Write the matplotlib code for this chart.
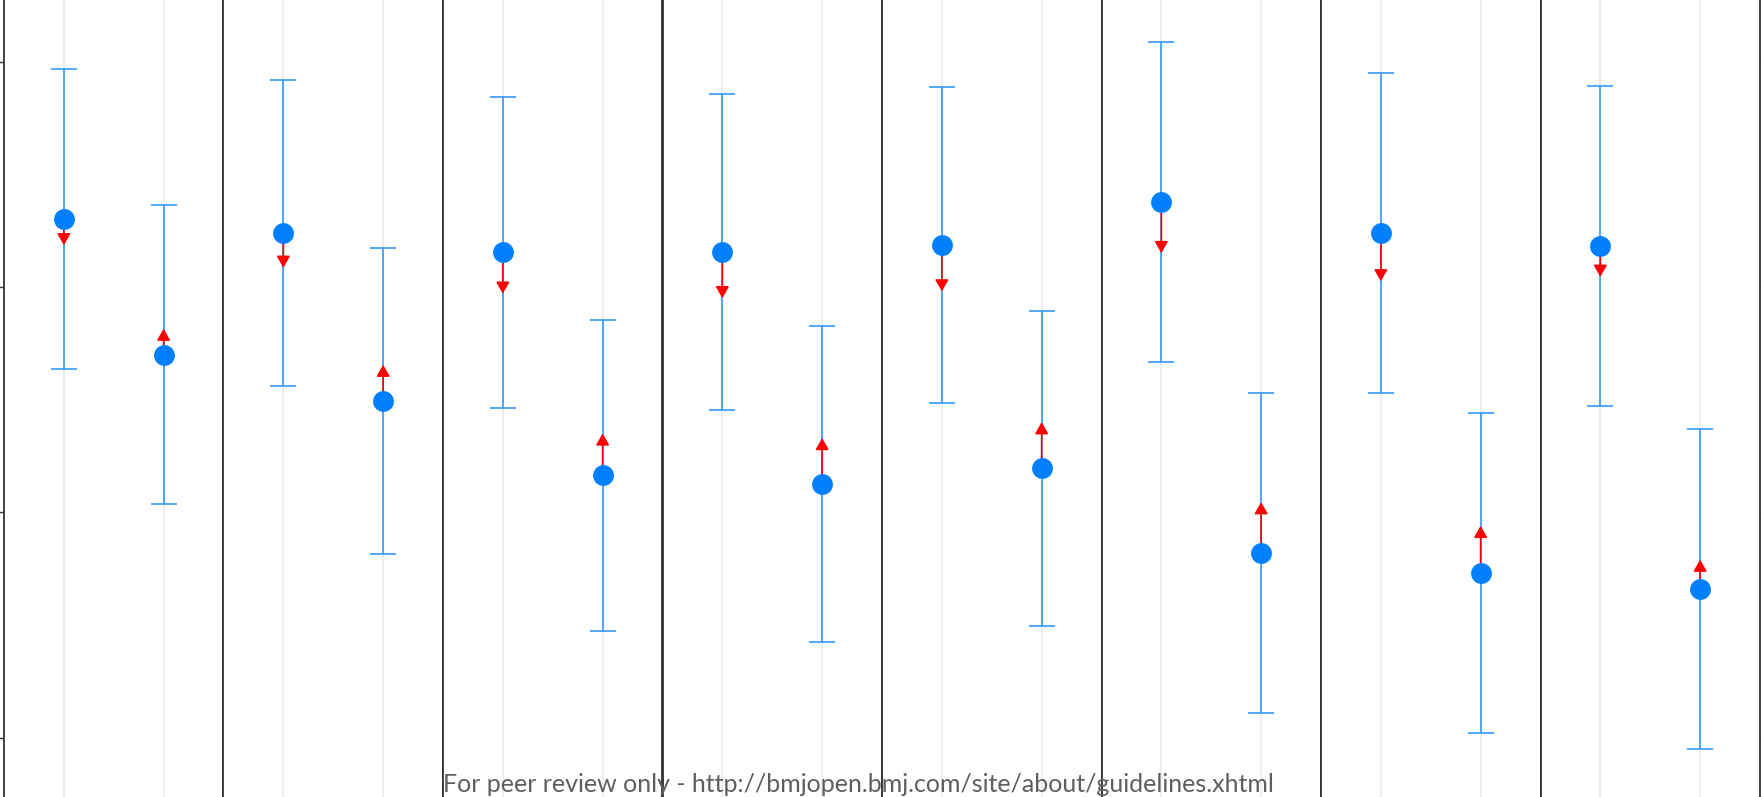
import matplotlib
matplotlib.use("Agg")
import matplotlib.pyplot as plt

# estimates per panel: first group (left) and second group (right)
est_a = [66.0, 64.8, 63.1, 63.1, 63.7, 67.5, 64.8, 63.6]
err_a = [13.3, 13.6, 13.8, 14.0, 14.0, 14.2, 14.2, 14.2]
target_a = [63.7, 61.7, 59.4, 59.0, 59.6, 63.0, 60.5, 60.9]

est_b = [54.0, 49.9, 43.3, 42.5, 43.9, 36.4, 34.6, 33.2]
err_b = [13.3, 13.6, 13.8, 14.0, 14.0, 14.2, 14.2, 14.2]
target_b = [56.3, 53.1, 47.0, 46.6, 48.0, 40.9, 38.8, 35.8]

y_ticks = [20, 40, 60, 80]

W, H = 1761, 797
fig = plt.figure(figsize=(W / 100, H / 100), dpi=100)

panel_w = 219.5
x0 = 4.0
n = len(est_a)

for i in range(n):
    ax = fig.add_axes([(x0 + i * panel_w) / W, -0.05, panel_w / W, 1.1])
    ax.set_xlim(0.4, 2.6)
    ax.set_ylim(11.2, 89.0)

    xs = [1, 2]
    ests = [est_a[i], est_b[i]]
    errs = [err_a[i], err_b[i]]
    targets = [target_a[i], target_b[i]]

    ax.errorbar(xs, ests, yerr=errs, fmt="none", ecolor="#3399ff",
                elinewidth=1.2, capsize=9.5, capthick=1.2, zorder=2)

    for x, e, t in zip(xs, ests, targets):
        ax.annotate("", xy=(x, t), xytext=(x, e),
                    arrowprops=dict(arrowstyle="-|>,head_length=0.7,head_width=0.4",
                                    color="red", lw=1.2, shrinkA=0, shrinkB=0),
                    zorder=3)

    ax.plot(xs, ests, "o", color="#0080ff", markersize=15, markeredgewidth=0, zorder=4)

    ax.set_xticks(xs)
    ax.grid(axis="x", color="#ebebeb", linewidth=1.2)
    ax.set_axisbelow(True)
    ax.tick_params(axis="x", length=0, labelbottom=False)
    ax.set_yticks(y_ticks)
    if i == 0:
        ax.tick_params(axis="y", length=4, width=1, color="#333333", labelleft=False)
    else:
        ax.tick_params(axis="y", left=False, labelleft=False)
    if i == n - 1:
        ax.tick_params(axis="y", right=True, length=4, width=1, color="#333333")

    for side, sp in ax.spines.items():
        sp.set_color("#333333")
        sp.set_linewidth(1.3)

fig.text(858 / W, 1 - 785 / H,
         "For peer review only - http://bmjopen.bmj.com/site/about/guidelines.xhtml",
         ha="center", va="center", fontsize=18, color="#5e5e5e",
         family=["Lato", "DejaVu Sans"])

fig.savefig("out.png", dpi=100)
